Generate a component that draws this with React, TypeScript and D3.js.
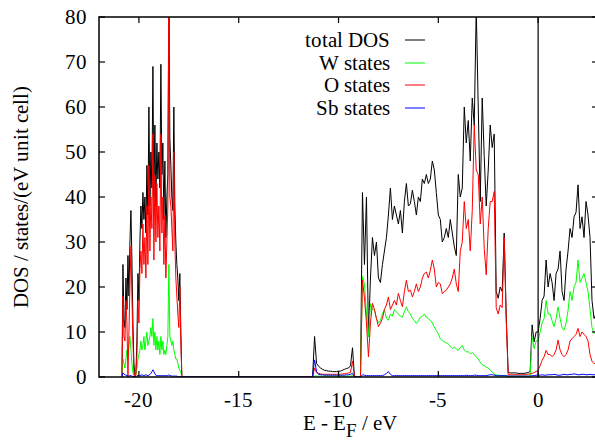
import React from 'react';
import * as d3 from 'd3';

// ---- energy grids (eV) ----
const LOW_START = -20.85;
const LOW_STEP = 0.05;
const MAIN_START = -11.3;
const MAIN_STEP = 0.1;

// ---- low band (-20.85 .. -17.85, step 0.05) ----
const totalLow = [
  0, 25, 13, 11, 22, 15, 27, 18, 30, 37,
  26, 12, 3, 0.5, 1, 8, 23, 17, 30, 38,
  33, 41, 35, 40, 32, 47, 36, 60, 38, 50,
  42, 69, 40, 56, 38, 52, 44, 50, 42, 69.5,
  45, 52, 35, 48, 31, 40, 45, 88, 53, 47,
  40, 37, 60, 38, 30, 25, 22, 17, 23, 10,
  0,
];
const oLow = [
  0, 18, 9, 8, 17, 12, 0, 10, 20, 29,
  18, 8, 1, 0, 0.5, 5, 17, 12, 24, 28,
  23, 34, 25, 31, 22, 38, 25, 47, 28, 40,
  33, 54, 26, 45, 30, 43, 31, 38, 28, 54,
  32, 40, 25, 36, 22, 30, 38, 85, 40, 38,
  33, 28, 50, 30, 22, 18, 14, 11, 20, 8,
  0,
];
const wLow = [
  0, 4, 3, 2, 4, 6, 5, 7, 9, 6,
  3, 1, 0.3, 0.2, 0.5, 2, 4, 5, 6, 8,
  6, 7, 9, 6, 8, 10, 7, 8, 9, 11,
  9, 13, 7, 10, 6, 9, 6, 8, 5, 9,
  6, 8, 5, 6, 5, 7, 9, 25, 9, 8,
  7, 8, 6, 5, 4, 4, 3, 2, 1.5, 1,
  0,
];
const sbLow = [
  0, 0.9, 0.7, 0.5, 0.4, 0.3, 0.2, 0.2, 0.3, 0.3,
  0.2, 0.1, 0.1, 0, 0.1, 0.2, 0.4, 0.3, 0.3, 0.4,
  0.5, 0.4, 0.3, 0.4, 0.5, 0.4, 0.3, 0.4, 0.6, 0.8,
  1.2, 1.6, 1.2, 0.7, 0.4, 0.3, 0.3, 0.3, 0.3, 0.3,
  0.3, 0.3, 0.3, 0.3, 0.3, 0.3, 0.3, 0.5, 0.3, 0.3,
  0.2, 0.2, 0.2, 0.2, 0.2, 0.2, 0.1, 0.1, 0.1, 0.1,
  0,
];

// ---- main region (-11.3 .. 3.0, step 0.1) ----
const totalMain = [
  0, 9, 3, 2.4, 2, 1.7, 1.5, 1.4, 1.3, 1.3,
  1.2, 1.2, 1.2, 1.3, 1.3, 1.5, 1.7, 1.9, 2, 2.5,
  6.5, 0, 0, 0, 0, 41, 25, 40, 9, 22,
  31, 27, 30, 22, 21, 25, 28, 31, 36, 42,
  35, 38, 36, 34, 37, 32, 39, 43, 38, 38.5,
  41.5, 39, 36, 40, 39, 44, 43, 45, 43, 44,
  48, 46, 41, 36, 35, 30, 31, 33, 31, 35,
  32, 29, 27, 45, 40, 42, 60, 52, 57, 48,
  62, 56, 82, 60, 39, 62, 49, 38, 46, 56,
  51, 54, 19, 17.5, 20, 19, 32, 14, 1, 0.9,
  0.9, 0.9, 0.9, 0.8, 0.8, 0.8, 0.8, 0.9, 1, 1.2,
  11.6, 7.8, 10, 10, 13, 17, 18, 26, 20, 23,
  21, 17, 23, 24, 28, 19, 17, 24, 28, 33,
  31, 35.6, 36.6, 42.7, 33, 35.6, 31, 39, 36, 31,
  17, 13, 14, 12,
];
const oMain = [
  0, 2, 1, 0.8, 0.7, 0.6, 0.6, 0.6, 0.6, 0.6,
  0.6, 0.6, 0.6, 0.6, 0.6, 0.7, 0.7, 0.8, 0.9, 1,
  3.5, 0, 0, 0, 0, 21.5, 17.6, 12, 4.5, 12,
  16.4, 15, 13, 11.2, 12, 13, 15, 16, 17.8, 15,
  16, 17, 16, 18.6, 17, 15.6, 19, 21.5, 19, 19.3,
  17.8, 19, 20.7, 19, 20, 22, 23, 23.3, 22, 23.7,
  26, 24, 20, 21, 20.7, 18.5, 19, 19.3, 20, 20.7,
  22, 24, 20.7, 19, 28, 30, 39, 33, 35, 28,
  37, 56, 46, 45, 34, 40, 28.6, 22.7, 33, 39,
  39, 41.2, 15.4, 14, 16, 15.4, 31, 12.8, 0.5, 0.5,
  0.5, 0.5, 0.5, 0.5, 0.5, 0.5, 0.5, 0.6, 0.6, 0.7,
  0.8, 1, 1.2, 1.5, 2.5, 3.7, 4.5, 5.9, 5, 5,
  4.5, 5, 6, 8.2, 6, 5, 4.5, 5, 6, 8,
  8.5, 9, 9.5, 10.8, 9, 10, 9.5, 9, 8, 5,
  3.5, 3, 3, 2.8,
];
const wMain = [
  0, 0.2, 0.2, 0.2, 0.2, 0.2, 0.2, 0.2, 0.2, 0.2,
  0.2, 0.2, 0.2, 0.2, 0.2, 0.2, 0.2, 0.2, 0.2, 0.2,
  0.3, 0, 0, 0, 0, 22.3, 20.7, 14, 9, 16.3,
  15, 15, 13, 12, 12.6, 14, 15, 13, 12.6, 14,
  13.5, 15, 14.5, 14, 13.5, 13.3, 14.5, 15.6, 14.5, 14,
  13, 12.6, 11.9, 12.5, 13.3, 13.5, 14, 13.3, 13, 12.6,
  12, 11.1, 10.3, 9.6, 8.5, 8.1, 7.8, 7.6, 7.4, 6.8,
  6.3, 6.7, 6.2, 5.9, 6.5, 7, 6, 5.6, 5.6, 5.2,
  5.4, 5, 4.5, 4, 3.3, 2.7, 2.5, 2.2, 2, 1.5,
  1.1, 0.7, 0.5, 0.4, 0.3, 0.3, 0.3, 0.2, 0.2, 0.2,
  0.2, 0.2, 0.2, 0.2, 0.2, 0.2, 0.2, 0.2, 0.2, 0.2,
  9, 6.3, 8, 8, 10, 12, 13, 17, 14, 14,
  12.5, 11.2, 13, 15.6, 13, 11, 10.4, 12, 14.8, 19,
  17, 20, 21, 26, 21, 22, 23, 21, 19, 15,
  11, 9.7, 10, 9,
];
const sbMain = [
  0, 3.8, 1.2, 0.6, 0.5, 0.5, 0.4, 0.4, 0.4, 0.4,
  0.4, 0.4, 0.4, 0.4, 0.4, 0.4, 0.4, 0.5, 0.5, 0.6,
  0.8, 0, 0, 0, 0, 0.5, 0.4, 0.3, 0.3, 0.3,
  0.3, 0.3, 0.3, 0.3, 0.3, 0.3, 0.5, 0.8, 1.2, 0.6,
  0.3, 0.3, 0.3, 0.3, 0.3, 0.3, 0.3, 0.3, 0.3, 0.3,
  0.3, 0.3, 0.3, 0.3, 0.3, 0.3, 0.3, 0.3, 0.3, 0.3,
  0.3, 0.3, 0.3, 0.3, 0.3, 0.3, 0.3, 0.3, 0.3, 0.3,
  0.3, 0.3, 0.3, 0.3, 0.3, 0.3, 0.3, 0.4, 0.3, 0.3,
  0.3, 0.4, 0.4, 0.3, 0.3, 0.3, 0.3, 0.3, 0.4, 0.5,
  0.5, 0.4, 0.3, 0.3, 0.3, 0.3, 0.3, 0.3, 0.2, 0.2,
  0.2, 0.2, 0.2, 0.2, 0.2, 0.2, 0.2, 0.2, 0.2, 0.2,
  0.3, 0.3, 0.4, 0.4, 0.4, 0.5, 0.4, 0.4, 0.5, 0.5,
  0.5, 0.6, 0.5, 0.4, 0.4, 0.5, 0.6, 0.5, 0.5, 0.6,
  0.6, 0.7, 0.6, 0.5, 0.5, 0.6, 0.6, 0.5, 0.5, 0.6,
  0.5, 0.5, 0.5, 0.5,
];

const xTicks = [-20, -15, -10, -5, 0];
const yTicks = [0, 10, 20, 30, 40, 50, 60, 70, 80];
const seriesNames = ['total DOS', 'W states', 'O states', 'Sb states'];
const seriesColors = ['#000000', '#00ff00', '#ff0000', '#0000ff'];
const X_DOMAIN = [-22, 3];
const Y_DOMAIN = [0, 80];
const FERMI = 0;

type Pt = [number, number];

function build(low: number[], main: number[]): Pt[] {
  return [
    ...low.map((v, i) => [LOW_START + i * LOW_STEP, v] as Pt),
    ...main.map((v, i) => [MAIN_START + i * MAIN_STEP, v] as Pt),
  ];
}

const FONT = "ChartSerif, 'Liberation Serif', 'Times New Roman', serif";
const FS = 21;
const CSS = `
@font-face { font-family: 'ChartSerif'; src: local('Liberation Serif'), local('LiberationSerif'), local('LiberationSerif-Regular'); }
.lbl { font-family: ChartSerif, 'Liberation Serif', 'Times New Roman', serif; font-size: ${FS}px; fill: #000; }
`;

export default function App() {
  const W = 595;
  const H = 448;
  const L = 99, R = 598, T = 17, B = 377;
  const x = d3.scaleLinear().domain(X_DOMAIN).range([L, R]);
  const y = d3.scaleLinear().domain(Y_DOMAIN).range([B, T]);
  const line = d3.line<Pt>().x((d) => x(d[0])).y((d) => y(d[1]));
  const tick = 6;
  const ts = { fontFamily: FONT, fontSize: FS } as React.CSSProperties;

  const data: Pt[][] = [
    build(totalLow, totalMain),
    build(wLow, wMain),
    build(oLow, oMain),
    build(sbLow, sbMain),
  ];

  return (
    <div style={{ position: 'absolute', left: 0, top: 0, fontFamily: FONT }}>
      <style>{CSS}</style>
      <svg width={W} height={H} style={{ display: 'block', background: '#fff', fontFamily: FONT }}>
        <defs>
          <clipPath id="plotclip">
            <rect x={L} y={T} width={R - L} height={B - T} />
          </clipPath>
        </defs>
        <rect x={0} y={0} width={W} height={H} fill="#fff" />
        <g clipPath="url(#plotclip)">
          {data.map((d, i) => (
            <path key={i} d={line(d) || ''} fill="none" stroke={seriesColors[i]} strokeWidth={1} strokeLinejoin="round" />
          ))}
          <line x1={x(FERMI)} x2={x(FERMI)} y1={T} y2={B} stroke="#000" strokeWidth={1.2} />
        </g>
        {/* frame */}
        <rect x={L} y={T} width={R - L} height={B - T} fill="none" stroke="#000" strokeWidth={1.5} />
        {/* y ticks */}
        {yTicks.map((t) => (
          <g key={'y' + t}>
            <line x1={L} x2={L + tick} y1={y(t)} y2={y(t)} stroke="#000" strokeWidth={1.2} />
            <line x1={R} x2={R - tick} y1={y(t)} y2={y(t)} stroke="#000" strokeWidth={1.2} />
          </g>
        ))}
        {/* x ticks */}
        {xTicks.map((t) => (
          <g key={'x' + t}>
            <line x1={x(t)} x2={x(t)} y1={B} y2={B - tick} stroke="#000" strokeWidth={1.2} />
            <line x1={x(t)} x2={x(t)} y1={T} y2={T + tick} stroke="#000" strokeWidth={1.2} />
          </g>
        ))}
        {/* legend */}
        {seriesNames.map((n, i) => (
          <g key={n}>
            <text className="lbl" x={390} y={47 + i * 22.5} textAnchor="end" style={ts}>
              {n}
            </text>
            <line x1={405} x2={425} y1={40 + Math.round(i * 22.5)} y2={40 + Math.round(i * 22.5)} stroke={seriesColors[i]} strokeWidth={1} />
          </g>
        ))}
        {/* tick labels */}
        {yTicks.map((t) => (
          <text key={'yl' + t} className="lbl" x={L - 12} y={y(t) + 7} textAnchor="end" style={ts}>
            {String(t)}
          </text>
        ))}
        {xTicks.map((t) => (
          <text key={'xl' + t} className="lbl" x={x(t)} y={407} textAnchor="middle" style={ts}>
            {String(t)}
          </text>
        ))}
        {/* axis labels */}
        <text
          className="lbl"
          transform={`translate(28, ${(T + B) / 2}) rotate(-90)`}
          textAnchor="middle"
          style={ts}
        >
          DOS / states/(eV unit cell)
        </text>
        <text className="lbl" x={350} y={430} textAnchor="middle" style={ts}>
          E - E
          <tspan dy={7} style={{ fontSize: 19 }}>F</tspan>
          <tspan dy={-7}> / eV</tspan>
        </text>
      </svg>
    </div>
  );
}
